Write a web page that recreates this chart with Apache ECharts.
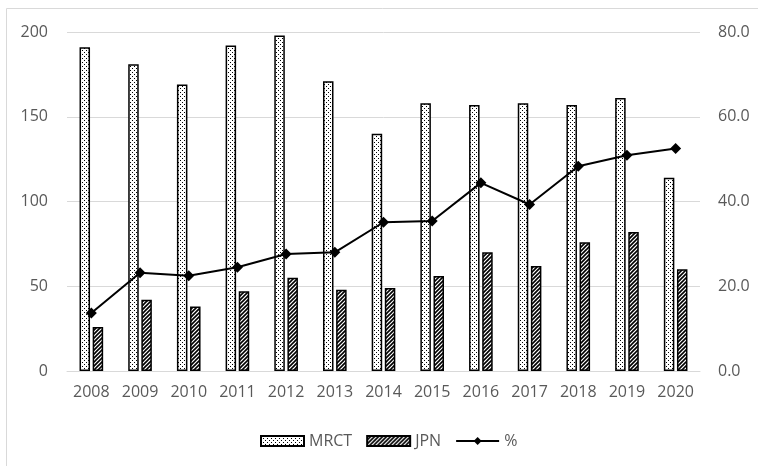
<!DOCTYPE html>
<html>
<head>
<meta charset="utf-8">
<script src="https://cdn.jsdelivr.net/npm/echarts@6/dist/echarts.min.js"></script>
<style>html,body{margin:0;padding:0;background:#fff;}#c{width:758px;height:466px;}</style>
</head>
<body>
<div id="c"></div>
<script>
const years = ['2008','2009','2010','2011','2012','2013','2014','2015','2016','2017','2018','2019','2020'];
const mrct = [191,181,169,192,198,171,140,158,157,158,157,161,114];
const jpn = [26,42,38,47,55,48,49,56,70,62,76,82,60];
const pct = [13.7,23.2,22.5,24.5,27.6,28.0,35.1,35.4,44.4,39.3,48.3,50.9,52.5];
const leftTicks = {min:0, max:200, interval:50};
const rightTicks = {min:0, max:80, interval:20};

function dotPattern(){
  const c = document.createElement('canvas'); c.width=4; c.height=4;
  const g = c.getContext('2d');
  g.fillStyle='#fff'; g.fillRect(0,0,4,4);
  g.fillStyle='#000'; g.fillRect(0,0,1,1); g.fillRect(2,2,1,1);
  return c;
}
function hatchPattern(){
  const s=8;
  const c = document.createElement('canvas'); c.width=s; c.height=s;
  const g = c.getContext('2d');
  g.fillStyle='#fff'; g.fillRect(0,0,s,s);
  g.strokeStyle='#000'; g.lineWidth=1.6;
  for(let cc=-8; cc<=24; cc+=4){
    g.beginPath(); g.moveTo(cc+4, -4); g.lineTo(cc-12, 12); g.stroke();
  }
  return c;
}

const chart = echarts.init(document.getElementById('c'), null, {renderer:'canvas'});
const font = '"Open Sans", "Noto Sans", sans-serif';
const txt = '#595959';
chart.setOption({
  animation:false,
  textStyle:{fontFamily:font},
  graphic:[{type:'rect', shape:{x:6.5,y:8.5,width:900,height:700}, style:{fill:'none', stroke:'#d9d9d9', lineWidth:1}, silent:true}],
  grid:{left:67, right:58, top:32, bottom:95},
  legend:{
    left:255, top:428, itemWidth:43, itemHeight:10, itemGap:14,
    textStyle:{color:txt, fontSize:16, fontFamily:font},
    data:[{name:'MRCT', icon:'rect'},{name:'JPN', icon:'rect'},{name:'%'}]
  },
  xAxis:{
    type:'category', data:years,
    axisLine:{show:true, lineStyle:{color:'#d9d9d9', width:1}},
    axisTick:{show:false},
    axisLabel:{color:txt, fontSize:16, margin:13, fontFamily:font, interval:0, hideOverlap:false}
  },
  yAxis:[
    {type:'value', min:leftTicks.min, max:leftTicks.max, interval:leftTicks.interval,
     axisLine:{show:false}, axisTick:{show:false},
     splitLine:{lineStyle:{color:'#d9d9d9', width:1}},
     axisLabel:{color:txt, fontSize:16, margin:19, fontFamily:font}},
    {type:'value', min:rightTicks.min, max:rightTicks.max, interval:rightTicks.interval,
     axisLine:{show:false}, axisTick:{show:false}, splitLine:{show:false},
     axisLabel:{color:txt, fontSize:16, margin:18, fontFamily:font, formatter:v=>v.toFixed(1)}}
  ],
  series:[
    {name:'MRCT', type:'bar', data:mrct, barWidth:10.5, barGap:'25%',
     itemStyle:{color:{image:dotPattern(), repeat:'repeat'}, borderColor:'#000', borderWidth:1.5}},
    {name:'JPN', type:'bar', data:jpn, barWidth:10.5, barGap:'25%',
     itemStyle:{color:{image:hatchPattern(), repeat:'repeat'}, borderColor:'#000', borderWidth:1.5}},
    {name:'%', type:'line', yAxisIndex:1, data:pct, symbol:'diamond', symbolSize:11,
     lineStyle:{color:'#000', width:2}, itemStyle:{color:'#000'}}
  ]
});
</script>
</body>
</html>
